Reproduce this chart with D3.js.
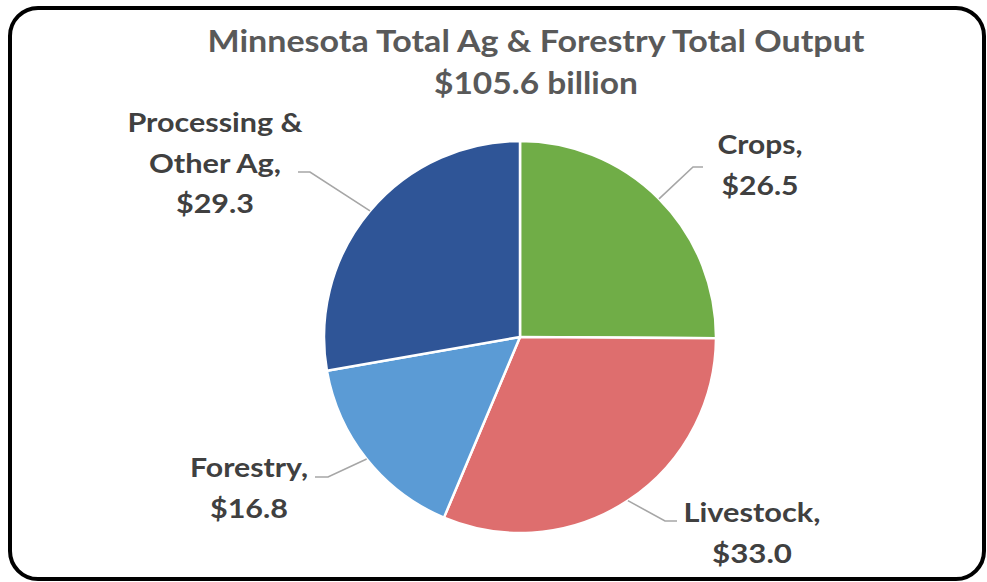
<!DOCTYPE html>
<html><head><meta charset="utf-8">
<script src="https://cdn.jsdelivr.net/npm/d3@7"></script>
<style>html,body{margin:0;padding:0;background:#fff;}svg{display:block;}</style>
</head><body>
<svg id="chart" width="987" height="582"></svg>
<script>
// ---- data ----
const categories = ["Crops", "Livestock", "Forestry", "Processing & Other Ag"];
const values = [26.5, 33.0, 16.8, 29.3];
const labelLines = [["Crops,", "$26.5"], ["Livestock,", "$33.0"], ["Forestry,", "$16.8"], ["Processing &", "Other Ag,", "$29.3"]];
const titleLines = ["Minnesota Total Ag & Forestry Total Output", "$105.6 billion"];

// ---- style / layout ----
const colors = ["#70AD47", "#DE6E6E", "#5B9BD5", "#2F5597"];
const W = 987, H = 582;
const cx = 520, cy = 337, R = 196;
const font = "Lato, 'Open Sans', sans-serif";
// label layout relative to pie centre: text centre x, first baseline, elbow, tail end x, line widths
const labelLayout = {
  "Crops": {tx: 240, ty: -183, ex: 173, ey: -170, tail: 183, widths: [85, 77]},
  "Livestock": {tx: 232, ty: 185, ex: 145, ey: 184, tail: 157, widths: [137, 80]},
  "Forestry": {tx: -271, ty: 140, ex: -192, ey: 140, tail: -205, widths: [118, 78]},
  "Processing & Other Ag": {tx: -305, ty: -205, ex: -210, ey: -165, tail: -222, widths: [175, 132, 78]}
};
const lineGap = 40.5;

const svg = d3.select("#chart");
svg.append("rect").attr("width", W).attr("height", H).attr("fill", "#fff");
svg.append("rect").attr("x", 10).attr("y", 8).attr("width", 974).attr("height", 571)
  .attr("rx", 28).attr("fill", "#fff").attr("stroke", "#000").attr("stroke-width", 4);

// title
const titleWidths = [657, 204];
const titleY = [52, 94];
titleLines.forEach((t, i) => {
  svg.append("text").attr("x", 536).attr("y", titleY[i]).attr("text-anchor", "middle")
    .attr("font-family", font).attr("font-weight", 700).attr("font-size", 30)
    .attr("fill", "#595959").attr("textLength", titleWidths[i]).attr("lengthAdjust", "spacingAndGlyphs")
    .text(t);
});

const data = categories.map((c, i) => ({cat: c, value: values[i], color: colors[i], lines: labelLines[i]}));
const pie = d3.pie().value(d => d.value).sort(null);
const arcs = pie(data);
const arc = d3.arc().innerRadius(0).outerRadius(R);
const edgeArc = d3.arc().innerRadius(R).outerRadius(R);

const g = svg.append("g").attr("transform", `translate(${cx},${cy})`);
g.selectAll("path.slice").data(arcs).join("path").attr("class", "slice")
  .attr("d", arc).attr("fill", d => d.data.color)
  .attr("stroke", "#fff").attr("stroke-width", 2.5).attr("stroke-linejoin", "round");

// leaders
g.selectAll("polyline.leader").data(arcs).join("polyline").attr("class", "leader")
  .attr("points", d => {
    const L = labelLayout[d.data.cat];
    const p = edgeArc.centroid(d);
    return [p, [L.ex, L.ey], [L.tail, L.ey]].map(q => q.join(",")).join(" ");
  })
  .attr("fill", "none").attr("stroke", "#A6A6A6").attr("stroke-width", 1.6);

// labels
arcs.forEach(d => {
  const L = labelLayout[d.data.cat];
  d.data.lines.forEach((line, i) => {
    g.append("text").attr("x", L.tx).attr("y", L.ty + i * lineGap)
      .attr("text-anchor", "middle").attr("font-family", font).attr("font-weight", 700)
      .attr("font-size", 27).attr("fill", "#404040")
      .attr("textLength", L.widths[i]).attr("lengthAdjust", "spacingAndGlyphs")
      .text(line);
  });
});
</script>
</body></html>
